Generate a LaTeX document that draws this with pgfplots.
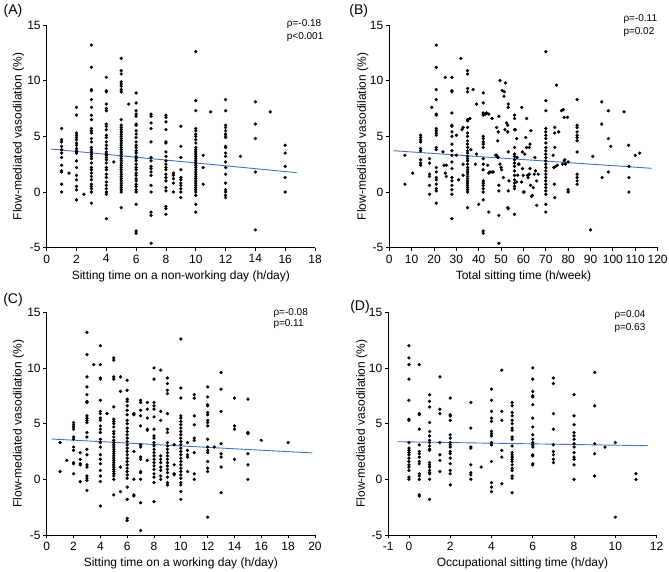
\documentclass[border=0pt]{standalone}
\usepackage{fontspec}
\setmainfont{Liberation Sans}
\usepackage{pgfplots}
\pgfplotsset{compat=1.18}
\definecolor{fitblue}{RGB}{68,114,196}
\pgfplotsset{panel/.style={
  scale only axis, width=268.3pt, height=222.7pt, anchor=south west,
  ymin=-5, ymax=15, ytick={-5,0,5,10,15},
  axis x line=bottom, axis y line=left, axis line style={-, line width=0.8pt, black},
  tick align=outside, major tick length=3.5pt, tick style={line width=0.8pt, black},
  every tick label/.append style={font=\fontsize{12}{14}\selectfont},
  yticklabel style={xshift=1pt},
  label style={font=\fontsize{12}{14}\selectfont},
  ylabel={Flow-mediated vasodilation (\%)},
  /pgf/number format/assume math mode=true,
  clip=false,
  xlabel style={at={(axis description cs:0.5,-0.127)}, anchor=center},
  ylabel style={at={(axis description cs:-0.105,0.5)}, anchor=center},
},
dots/.style={only marks, mark=*, mark size=1.45pt, black},
fit/.style={fitblue, line width=0.9pt, no marks},
}
\begin{document}
\begin{tikzpicture}[x=1pt,y=1pt]
\useasboundingbox (0,0) rectangle (669,572);
% ---------------- (A)
\begin{axis}[panel, at={(46.7pt,324.3pt)}, xmin=0, xmax=18, xtick={0,2,...,18},
  xlabel={Sitting time on a non-working day (h/day)}]
\addplot[dots] coordinates {
(1,5.7)(1,4.7)(1,4.5)(1,4.1)(1,3.8)(1,3.5)(1,3.1)(1,2.4)(1,1.9)(1,1.8)(1,0.7)(1,0.0)
(1.5,1.7)
(2,7.6)(2,6.9)(2,5.3)(2,5.1)(2,4.9)(2,4.7)(2,4.4)(2,4.2)(2,3.9)(2,3.7)(2,3.6)(2,3.5)(2,2.8)(2,2.2)(2,1.5)(2,1.1)(2,0.5)(2,0.2)(2,-0.7)
(2.5,-0.2)
(3,13.2)(3,11.2)(3,9.2)(3,9.1)(3,8.3)(3,7.6)(3,6.9)(3,6.5)(3,5.7)(3,5.5)(3,5.3)(3,4.8)(3,4.5)(3,4.0)(3,3.8)(3,3.6)(3,3.4)(3,3.2)(3,3.0)(3,2.6)(3,2.2)(3,2.0)(3,1.7)(3,1.4)(3,1.1)(3,0.7)(3,0.5)(3,0.3)(3,0.0)(3,-1.0)
(4,10.3)(4,9.1)(4,9.0)(4,7.9)(4,7.5)(4,7.3)(4,6.1)(4,5.9)(4,5.6)(4,5.1)(4,4.9)(4,4.5)(4,4.2)(4,3.9)(4,3.6)(4,3.4)(4,3.3)(4,3.1)(4,2.9)(4,2.6)(4,2.2)(4,2.0)(4,1.6)(4,1.3)(4,0.9)(4,0.6)(4,0.3)(4,0.0)(4,-0.2)(4,-2.4)
(4.5,2.7)
(5,12.0)(5,10.9)(5,10.6)(5,9.9)(5,9.7)(5,9.5)(5,9.2)(5,9.0)(5,6.5)(5,6.0)(5,5.8)(5,5.6)(5,5.4)(5,5.2)(5,5.0)(5,4.8)(5,4.6)(5,4.4)(5,4.2)(5,4.0)(5,3.8)(5,3.6)(5,3.4)(5,3.2)(5,3.0)(5,2.8)(5,2.6)(5,2.4)(5,2.2)(5,2.0)(5,1.8)(5,1.6)(5,1.4)(5,1.2)(5,1.0)(5,0.8)(5,0.6)(5,0.4)(5,0.2)(5,0.0)(5,-1.4)
(5.5,7.9)
(6,8.9)(6,8.0)(6,7.3)(6,7.0)(6,6.8)(6,6.1)(6,6.0)(6,5.5)(6,5.2)(6,4.9)(6,4.5)(6,4.2)(6,4.0)(6,3.7)(6,3.5)(6,3.2)(6,3.0)(6,2.8)(6,2.5)(6,2.2)(6,2.0)(6,1.7)(6,1.5)(6,1.2)(6,1.0)(6,0.7)(6,0.5)(6,0.2)(6,0.0)(6,-1.1)(6,-3.5)(6,-3.7)
(7,7.0)(7,6.8)(7,6.2)(7,5.7)(7,4.5)(7,3.1)(7,2.8)(7,2.3)(7,2.1)(7,1.8)(7,1.5)(7,0.6)(7,0.0)(7,-1.8)(7,-2.1)(7,-4.6)
(8,6.9)(8,6.7)(8,6.3)(8,5.6)(8,4.5)(8,4.4)(8,3.6)(8,3.2)(8,2.8)(8,2.5)(8,2.2)(8,2.0)(8,1.6)(8,1.3)(8,1.0)(8,0.4)(8,0.1)(8,-1.3)(8,-1.5)(8,-2.0)
(8.5,1.7)(8.5,1.5)(8.5,1.2)(8.5,0.8)(8.5,0.0)
(9,5.9)(9,4.1)(9,3.1)(9,2.0)(9,1.3)(9,1.1)(9,0.8)(9,0.6)(9,0.3)(9,0.0)(9,-0.5)
(10,12.6)(10,8.2)(10,7.3)(10,5.7)(10,5.5)(10,5.2)(10,5.0)(10,4.7)(10,4.4)(10,4.0)(10,3.8)(10,3.6)(10,3.4)(10,3.2)(10,3.0)(10,2.8)(10,2.6)(10,2.4)(10,2.2)(10,2.0)(10,1.8)(10,1.6)(10,1.4)(10,1.2)(10,1.0)(10,0.8)(10,0.6)(10,0.4)(10,0.2)(10,0.0)(10,-0.3)(10,-1.1)(10,-1.8)
(10.5,3.3)(10.5,2.2)(10.5,0.7)
(11,7.2)
(12,8.3)(12,7.3)(12,6.0)(12,5.8)(12,5.5)(12,5.2)(12,5.0)(12,4.9)(12,4.1)(12,4.0)(12,3.5)(12,3.2)(12,2.7)(12,2.2)(12,1.6)(12,0.8)(12,0.2)(12,0.0)(12,-0.3)(12,-0.5)
(13,3.2)
(14,8.1)(14,6.1)(14,4.8)(14,1.8)(14,-3.4)
(15,7.2)
(16,4.2)(16,3.5)(16,2.3)(16,1.3)(16,0.0)
};
\addplot[fit] coordinates {(0.3,3.86)(16.77,1.74)};
\end{axis}
% ---------------- (B)
\begin{axis}[panel, at={(389.3pt,324.3pt)}, xmin=0, xmax=120, xtick={0,10,...,120},
  xlabel={Total sitting time (h/week)},
  ylabel style={at={(axis description cs:-0.099,0.5)}, anchor=center}]
\addplot[dots] coordinates {
(7,3.3)(7,0.7)(10.5,1.7)
(14,5.1)(14,4.9)(14,4.7)(14,4.5)(14,3.9)(14,3.7)(14,2.9)(14,2.6)(14,2.4)
(18,3.0)(18,2.6)(18,1.6)(18,1.4)(18,0.6)(18,-0.2)(19,7.6)
(21,13.2)(21,11.2)(21,9.2)(21,8.3)(21,7.0)(21,6.9)(21,5.7)(21,5.5)(21,5.3)(21,5.1)(21,4.0)(21,3.8)(21,2.2)(21,1.8)(21,1.3)(21,1.1)(21,0.7)(21,0.3)(21,0.1)(21,-1.0)
(24,3.6)(24.5,2.4)(25.5,2.4)(25,1.7)(25.5,1.4)(25,10.3)
(28,10.3)(28,9.1)(28,9.0)(28,7.1)(28,6.0)(28,5.9)(28,5.4)(28,5.0)(28,4.3)(28,3.7)(28,3.3)(28,2.7)(28,2.1)(28,1.3)(28,1.0)(28,0.6)(28,0.2)(28,-0.2)(28,-2.4)
(30,5.1)(30,3.3)(32,12.0)(31,1.1)(32.5,5.6)(33,5.8)(33,2.5)(33,1.5)
(35,10.9)(35,10.6)(35,9.3)(35,9.0)(35,6.5)(35,6.4)(35,5.8)(35,5.3)(35,5.0)(35,4.6)(35,4.3)(35,4.0)(35,3.7)(35,3.5)(35,3.2)(35,3.0)(35,2.8)(35,2.5)(35,2.2)(35,2.0)(35,1.8)(35,1.6)(35,1.4)(35,1.2)(35,1.0)(35,0.8)(35,0.6)(35,0.4)(35,0.2)(35,0.0)(35,-1.4)
(36,6.6)(36.5,3.8)(37.5,9.2)(39,3.4)(38.5,2.5)(39,7.9)(40,-1.1)
(42,8.9)(42,8.0)(42,7.1)(42,7.0)(42,6.9)(42,5.0)(42,4.8)(42,4.5)(42,4.3)(42,4.0)(42,3.0)(42,2.5)(42,2.0)(42,1.0)(42,0.8)(42,0.6)(42,0.3)(42,0.0)(42,-0.7)(42,-3.5)(42,-3.7)
(43,7.0)(43.5,7.1)(44.5,7.0)(44,2.4)(44.5,1.7)(45,1.8)(44.5,-1.8)
(46,6.6)(46,1.8)(46.5,1.8)(47.5,3.3)(48,5.8)(48.5,3.1)(48.7,5.4)
(49.5,10.0)(52,9.8)(50.5,9.1)(51.5,9.0)(51.3,8.6)(49,6.8)(52.5,6.2)(53,6.0)(51.7,5.6)(48.5,4.6)(48,3.3)(48.7,3.1)(49.5,2.5)(50,2.2)(50.2,2.0)(51,1.3)(49,0.6)(49,0.1)(49,-2.1)(49,-4.6)
(53.2,7.9)(53.2,7.6)(53,5.4)(53.2,3.6)(53.5,1.0)(53.2,0.1)(53,-1.4)(53.2,-1.5)
(56,6.9)(56,6.6)(56,5.6)(56.4,5.6)(56,4.0)(56,3.4)(56,3.2)(56,2.9)(56,2.6)(56,2.3)(56,1.9)(56,1.5)(56,1.1)(56,0.8)(56,0.5)(56,0.3)(56,-2.0)
(57,4.8)(57.2,3.1)(57.7,2.5)(57.4,1.5)(57,0.9)(58,2.5)
(59.2,7.6)(59.5,3.6)(59.6,2.1)(59.9,1.5)(59.2,0.9)(59.9,0.0)(60.3,0.0)(60.6,3.4)
(61.4,6.6)(61,4.9)(61.4,4.0)(61.8,1.5)(62.1,1.3)(62.6,1.6)(62.9,2.1)(62.6,4.0)(62.9,4.3)(63.3,5.5)(63.2,0.6)(63.6,-0.4)(63.9,-0.3)(64.4,0.4)(64.8,1.6)(65.1,3.1)(65.4,1.9)(65.9,-1.2)(65.9,1.0)(66.6,1.6)
(70,12.6)(70,8.2)(70,7.3)(70,5.7)(70,5.4)(70,5.1)(70,4.8)(70,4.4)(70,4.0)(70,3.7)(70,3.4)(70,3.1)(70,2.8)(70,2.5)(70,2.2)(70,1.9)(70,1.6)(70,1.3)(70,1.0)(70,0.7)(70,0.4)(70,0.1)(70,-0.2)(70,-1.1)(70,-1.8)
(74,5.8)(74,5.3)(74,4.0)(73.3,3.3)(73.8,0.7)(74,-0.5)(74.8,9.6)(73.6,2.2)(74.4,2.3)(75.2,2.4)(75.8,5.4)
(77,7.3)(77.8,7.4)(78.2,6.7)(77.5,2.5)(78.2,2.8)(78.5,2.9)(78.8,2.5)(79.7,6.7)(80,2.7)(80,0.2)(80,0.0)
(84,8.3)(84,6.0)(84,5.8)(84,5.4)(84,5.1)(84,4.9)(84,4.6)(84,3.6)(84,1.6)(84,1.3)(84,1.0)(84,0.7)
(91,3.2)(90,-3.4)(95,8.1)(95,6.1)(95.2,1.3)(98,7.3)(98,4.8)(98,1.8)(99,4.1)(105,7.2)(107,4.2)(107.2,2.3)(107.2,1.3)(107.2,0.0)(110,3.3)(112,3.5)
};
\addplot[fit] coordinates {(1.8,3.71)(117.3,2.13)};
\end{axis}
% ---------------- (C)
\begin{axis}[panel, at={(46.7pt,37pt)}, xmin=0, xmax=20, xtick={0,2,...,20},
  xlabel={Sitting time on a working day (h/day)}]
\addplot[dots] coordinates {
(1,3.3)(1,0.7)(1.5,1.7)
(2,5.1)(2,4.9)(2,4.7)(2,4.5)(2,3.8)(2,3.6)(2,2.9)(2,2.6)(2,1.5)(2,1.4)(2,0.5)
(2.5,2.4)(2.5,1.8)(2.5,1.4)(2.5,1.3)(2.5,-0.2)
(3,13.2)(3,11.2)(3,9.2)(3,8.3)(3,7.6)(3,7.0)(3,6.9)(3,5.7)(3,5.5)(3,5.3)(3,5.1)(3,4.2)(3,3.8)(3,2.7)(3,2.2)(3,1.3)(3,1.1)(3,0.3)(3,0.1)(3,-0.1)(3,-1.0)
(3.5,10.3)
(4,12.0)(4,10.3)(4,9.1)(4,9.0)(4,7.1)(4,6.1)(4,5.9)(4,5.5)(4,5.3)(4,4.8)(4,4.5)(4,4.2)(4,3.6)(4,3.3)(4,2.9)(4,2.2)(4,1.8)(4,1.4)(4,0.8)(4,0.3)(4,-0.2)(4,-2.4)
(4.5,5.9)
(5,10.9)(5,10.7)(5,9.2)(5,9.0)(5,6.5)(5,5.4)(5,5.2)(5,5.0)(5,4.7)(5,4.3)(5,4.1)(5,3.8)(5,3.5)(5,3.3)(5,3.1)(5,2.9)(5,2.7)(5,2.5)(5,2.3)(5,2.1)(5,1.9)(5,1.7)(5,1.5)(5,1.3)(5,1.1)(5,0.9)(5,0.7)(5,0.5)(5,0.3)(5,0.0)(5,-1.4)
(5.5,9.2)(5.5,7.9)(5.5,1.1)(5.5,-1.1)
(6,8.9)(6,8.0)(6,7.2)(6,7.0)(6,6.6)(6,6.2)(6,5.8)(6,5.3)(6,5.0)(6,4.6)(6,4.3)(6,4.0)(6,3.7)(6,3.4)(6,3.1)(6,2.8)(6,2.5)(6,2.2)(6,1.9)(6,1.6)(6,1.3)(6,1.0)(6,0.7)(6,0.4)(6,0.1)(6,-0.7)(6,-1.8)(6,-3.5)(6,-3.7)
(6.5,5.9)(6.5,5.8)(6.5,2.5)(6.5,0.0)(6.5,-1.4)(6.5,-1.5)
(7,7.1)(7,6.9)(7,6.2)(7,5.7)(7,4.8)(7,3.1)(7,2.9)(7,2.0)(7,1.8)(7,0.7)(7,0.6)(7,0.0)(7,-2.1)(7,-4.6)
(7.5,6.9)(7.5,6.3)(7.5,5.5)(7.5,4.5)(7.5,4.4)(7.5,1.7)
(8,10.0)(8,9.0)(8,6.9)(8,6.6)(8,6.3)(8,5.6)(8,4.5)(8,3.9)(8,3.7)(8,3.3)(8,3.0)(8,2.7)(8,2.4)(8,2.1)(8,1.8)(8,1.5)(8,1.2)(8,0.9)(8,0.5)(8,0.2)(8,-0.3)(8,-2.0)
(8.5,9.8)(8.5,6.1)(8.5,5.3)(8.5,2.1)(8.5,1.8)(8.5,1.5)(8.5,1.1)(8.5,0.8)(8.5,0.3)(8.5,0.0)
(9,9.1)(9,8.6)(9,8.0)(9,7.7)(9,5.9)(9,4.5)(9,4.2)(9,3.3)(9,3.0)(9,2.7)(9,2.4)(9,2.1)(9,1.8)(9,1.5)(9,1.2)(9,0.9)(9,0.6)(9,0.2)(9,-0.3)(9,-0.5)
(9.5,3.1)(9.5,1.3)(9.5,0.5)(9.5,0.4)
(10,12.6)(10,8.2)(10,7.3)(10,5.7)(10,5.5)(10,5.2)(10,4.9)(10,4.6)(10,4.3)(10,4.0)(10,3.7)(10,3.4)(10,3.1)(10,2.8)(10,2.5)(10,2.2)(10,1.9)(10,1.6)(10,1.3)(10,1.0)(10,0.7)(10,0.4)(10,0.1)(10,-0.3)(10,-0.5)(10,-1.1)(10,-1.8)
(10.5,3.3)(10.5,2.6)(10.5,2.2)(10.5,2.0)(10.5,0.7)
(11,7.6)(11,7.3)(11,5.7)(11,4.9)(11,3.7)(11,3.5)(11,2.4)(11,0.5)(11,0.0)
(12,8.3)(12,7.4)(12,6.7)(12,6.6)(12,6.0)(12,5.8)(12,5.3)(12,5.1)(12,4.8)(12,3.6)(12,2.9)(12,2.6)(12,2.4)(12,1.6)(12,1.0)(12,0.7)(12,-3.4)
(12.5,2.9)
(13,9.6)(13,8.1)(13,6.1)(13,3.2)(13,2.3)(13,2.0)(13,1.1)(13,-1.2)
(14,7.3)(14,4.8)(14,4.5)(14,1.8)
(15,7.2)(15,4.2)(15,4.1)(15,2.3)(15,1.3)(15,0.0)
(16,3.5)(18,3.3)
};
\addplot[fit] coordinates {(0.37,3.62)(19.8,2.37)};
\end{axis}
% ---------------- (D)
\begin{axis}[panel, at={(388.3pt,37pt)}, xmin=-1, xmax=12, xtick={-1,0,2,4,6,8,10,12},
  xlabel={Occupational sitting time (h/day)},
  ylabel style={at={(axis description cs:-0.099,0.5)}, anchor=center}]
\addplot[dots] coordinates {
(0,12.0)(0,10.9)(0,10.3)(0,9.0)(0,7.1)(0,5.4)(0,5.3)(0,3.3)(0,2.8)(0,2.6)(0,2.4)(0,2.2)(0,1.9)(0,1.6)(0,1.3)(0,1.1)(0,0.8)(0,0.2)(0,0.0)
(0.5,10.3)(0.5,5.9)(0.5,5.8)(0.5,4.5)(0.5,3.1)(0.5,2.5)(0.5,2.3)(0.5,2.0)(0.5,1.6)(0.5,1.4)(0.5,0.5)(0.5,0.3)(0.5,0.0)(0.5,-1.4)(0.5,-1.5)
(1,7.6)(1,7.0)(1,6.5)(1,5.1)(1,4.3)(1,3.9)(1,3.5)(1,3.3)(1,3.0)(1,2.7)(1,2.6)(1,1.5)(1,1.3)(1,1.1)(1,0.8)(1,0.6)(1,0.5)(1,0.0)(1,-1.8)
(1.5,9.2)(1.5,6.3)(1.5,5.9)(1.5,3.3)(1.5,2.2)(1.5,1.7)(1.5,0.7)
(2,7.3)(2,5.8)(2,5.7)(2,5.3)(2,4.0)(2,3.7)(2,3.3)(2,3.1)(2,2.9)(2,2.5)(2,2.3)(2,1.9)(2,1.4)(2,0.8)(2,0.5)(2,-0.5)
(3,6.9)(3,4.6)(3,2.9)(3,2.8)(3,1.3)(3,0.6)(3,0.4)(3,0.0)
(3.5,1.1)
(4,8.1)(4,7.1)(4,6.1)(4,5.5)(4,5.2)(4,4.3)(4,4.1)(4,3.9)(4,3.3)(4,3.1)(4,1.6)(4,-0.3)(4,-0.7)(4,-1.1)
(4.5,9.8)(4.5,6.1)(4.5,5.3)(4.5,2.6)(4.5,2.0)(4.5,-0.4)
(5,6.9)(5,6.6)(5,6.0)(5,5.7)(5,5.3)(5,5.0)(5,4.6)(5,4.4)(5,3.8)(5,3.6)(5,3.0)(5,2.4)(5,2.2)(5,2.0)(5,1.8)(5,1.6)(5,1.3)(5,1.0)(5,0.8)(5,0.3)(5,0.1)(5,-1.2)
(6,10.0)(6,9.0)(6,7.9)(6,7.5)(6,7.4)(6,6.7)(6,5.5)(6,4.7)(6,4.0)(6,3.6)(6,3.3)(6,3.1)(6,2.9)(6,2.2)(6,2.1)(6,1.4)(6,1.3)
(7,9.1)(7,8.6)(7,5.9)(7,4.5)(7,3.1)(7,2.5)(7,2.2)(7,1.8)(7,1.5)
(8,7.6)(8,5.7)(8,4.9)(8,4.2)(8,3.9)(8,3.6)(8,3.2)(8,2.9)(8,2.4)(8,2.0)(8,1.8)(8,1.3)(8,0.0)
(9,9.6)(9,6.6)(9,3.2)(9,2.3)(9,0.3)
(9.5,2.9)
(10,3.3)(10,-3.4)
(11,0.5)(11,0.0)
};
\addplot[fit] coordinates {(-0.55,3.38)(11.56,3.02)};
\end{axis}
% ---------------- annotations
\begin{scope}[every node/.style={font=\fontsize{10}{12}\selectfont, anchor=west, inner sep=0pt}]
\node at (286.7,547.7) {ρ=-0.18};
\node at (286.7,535.3) {p<0.001};
\node at (623.3,553.0) {ρ=-0.11};
\node at (623.3,540.3) {p=0.02};
\node at (273.3,259.3) {ρ=-0.08};
\node at (273.3,247.7) {p=0.11};
\node at (614.3,257.0) {ρ=0.04};
\node at (614.3,244.3) {p=0.63};
\end{scope}
\begin{scope}[every node/.style={font=\fontsize{14}{16}\selectfont, anchor=center, inner sep=0pt}]
\node at (13,561) {(A)};
\node at (358.7,561) {(B)};
\node at (13,272) {(C)};
\node at (360,265) {(D)};
\end{scope}
\end{tikzpicture}
\end{document}
